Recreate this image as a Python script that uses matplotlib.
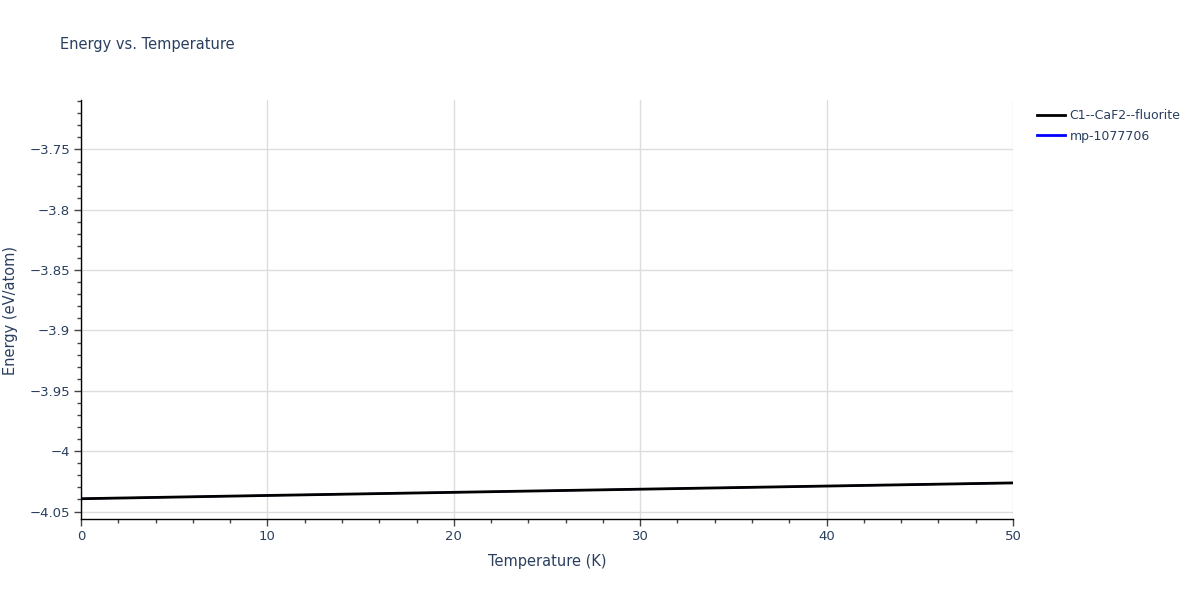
import numpy as np
import matplotlib.pyplot as plt
from matplotlib.lines import Line2D
from matplotlib.ticker import MultipleLocator, FuncFormatter

# values
temperature = [0, 10, 20, 30, 40, 50]
energy_fluorite = [-4.0394, -4.0367, -4.0341, -4.0315, -4.0289, -4.0263]
energy_mp = [-4.0394, -4.0367, -4.0341, -4.0315, -4.0289, -4.0263]

txt = '#2a3f5f'
grid = '#dddddd'

plt.rcParams['font.family'] = ['DejaVu Sans']

fig = plt.figure(figsize=(12, 6), dpi=100)
ax = fig.add_axes([81/1200, 1 - 519/600, (1013 - 81)/1200, (519 - 100)/600])

# blue series sits right under the black one
ax.plot(temperature, energy_mp, color='blue', lw=1.2, zorder=2)
ax.plot(temperature, energy_fluorite, color='black', lw=2, zorder=3)

ax.set_xlim(0, 50)
ax.set_ylim(-4.0562, -3.709)

ax.xaxis.set_major_locator(MultipleLocator(10))
ax.xaxis.set_minor_locator(MultipleLocator(2))
ax.yaxis.set_major_locator(MultipleLocator(0.05))
ax.yaxis.set_minor_locator(MultipleLocator(0.01))

def fmt(v, pos):
    s = ('%.2f' % v).rstrip('0').rstrip('.')
    return s.replace('-', '\u2212')

ax.yaxis.set_major_formatter(FuncFormatter(fmt))
ax.xaxis.set_major_formatter(FuncFormatter(lambda v, p: '%d' % v))

ax.grid(True, which='major', color=grid, lw=1)
ax.set_axisbelow(True)
for s in ['top', 'right']:
    ax.spines[s].set_visible(False)
for s in ['left', 'bottom']:
    ax.spines[s].set_color('black')
    ax.spines[s].set_linewidth(1)

ax.tick_params(which='major', length=5, width=1, color='#444444', labelcolor=txt, labelsize=9.5, pad=3)
ax.tick_params(which='minor', length=3, width=1, color='#444444')

ax.set_xlabel('Temperature (K)', color=txt, fontsize=10.5, labelpad=8)
fig.text(11/1200, 1 - 310/600, 'Energy (eV/atom)', color=txt, fontsize=10.5,
         rotation=90, va='center', ha='center')

fig.text(60/1200, 1 - 45/600, 'Energy vs. Temperature', color=txt, fontsize=10.5, va='center', ha='left')

handles = [Line2D([], [], color='black', lw=2), Line2D([], [], color='blue', lw=2)]
labels = ['C1--CaF2--fluorite', 'mp-1077706']
leg = fig.legend(handles, labels, loc='upper left', bbox_to_anchor=(1026/1200, 1 - 98/600),
                 frameon=False, fontsize=9, handlelength=2.2, handletextpad=0.4, labelspacing=0.6)
for t in leg.get_texts():
    t.set_color(txt)

fig.savefig('out.png', dpi=100)
